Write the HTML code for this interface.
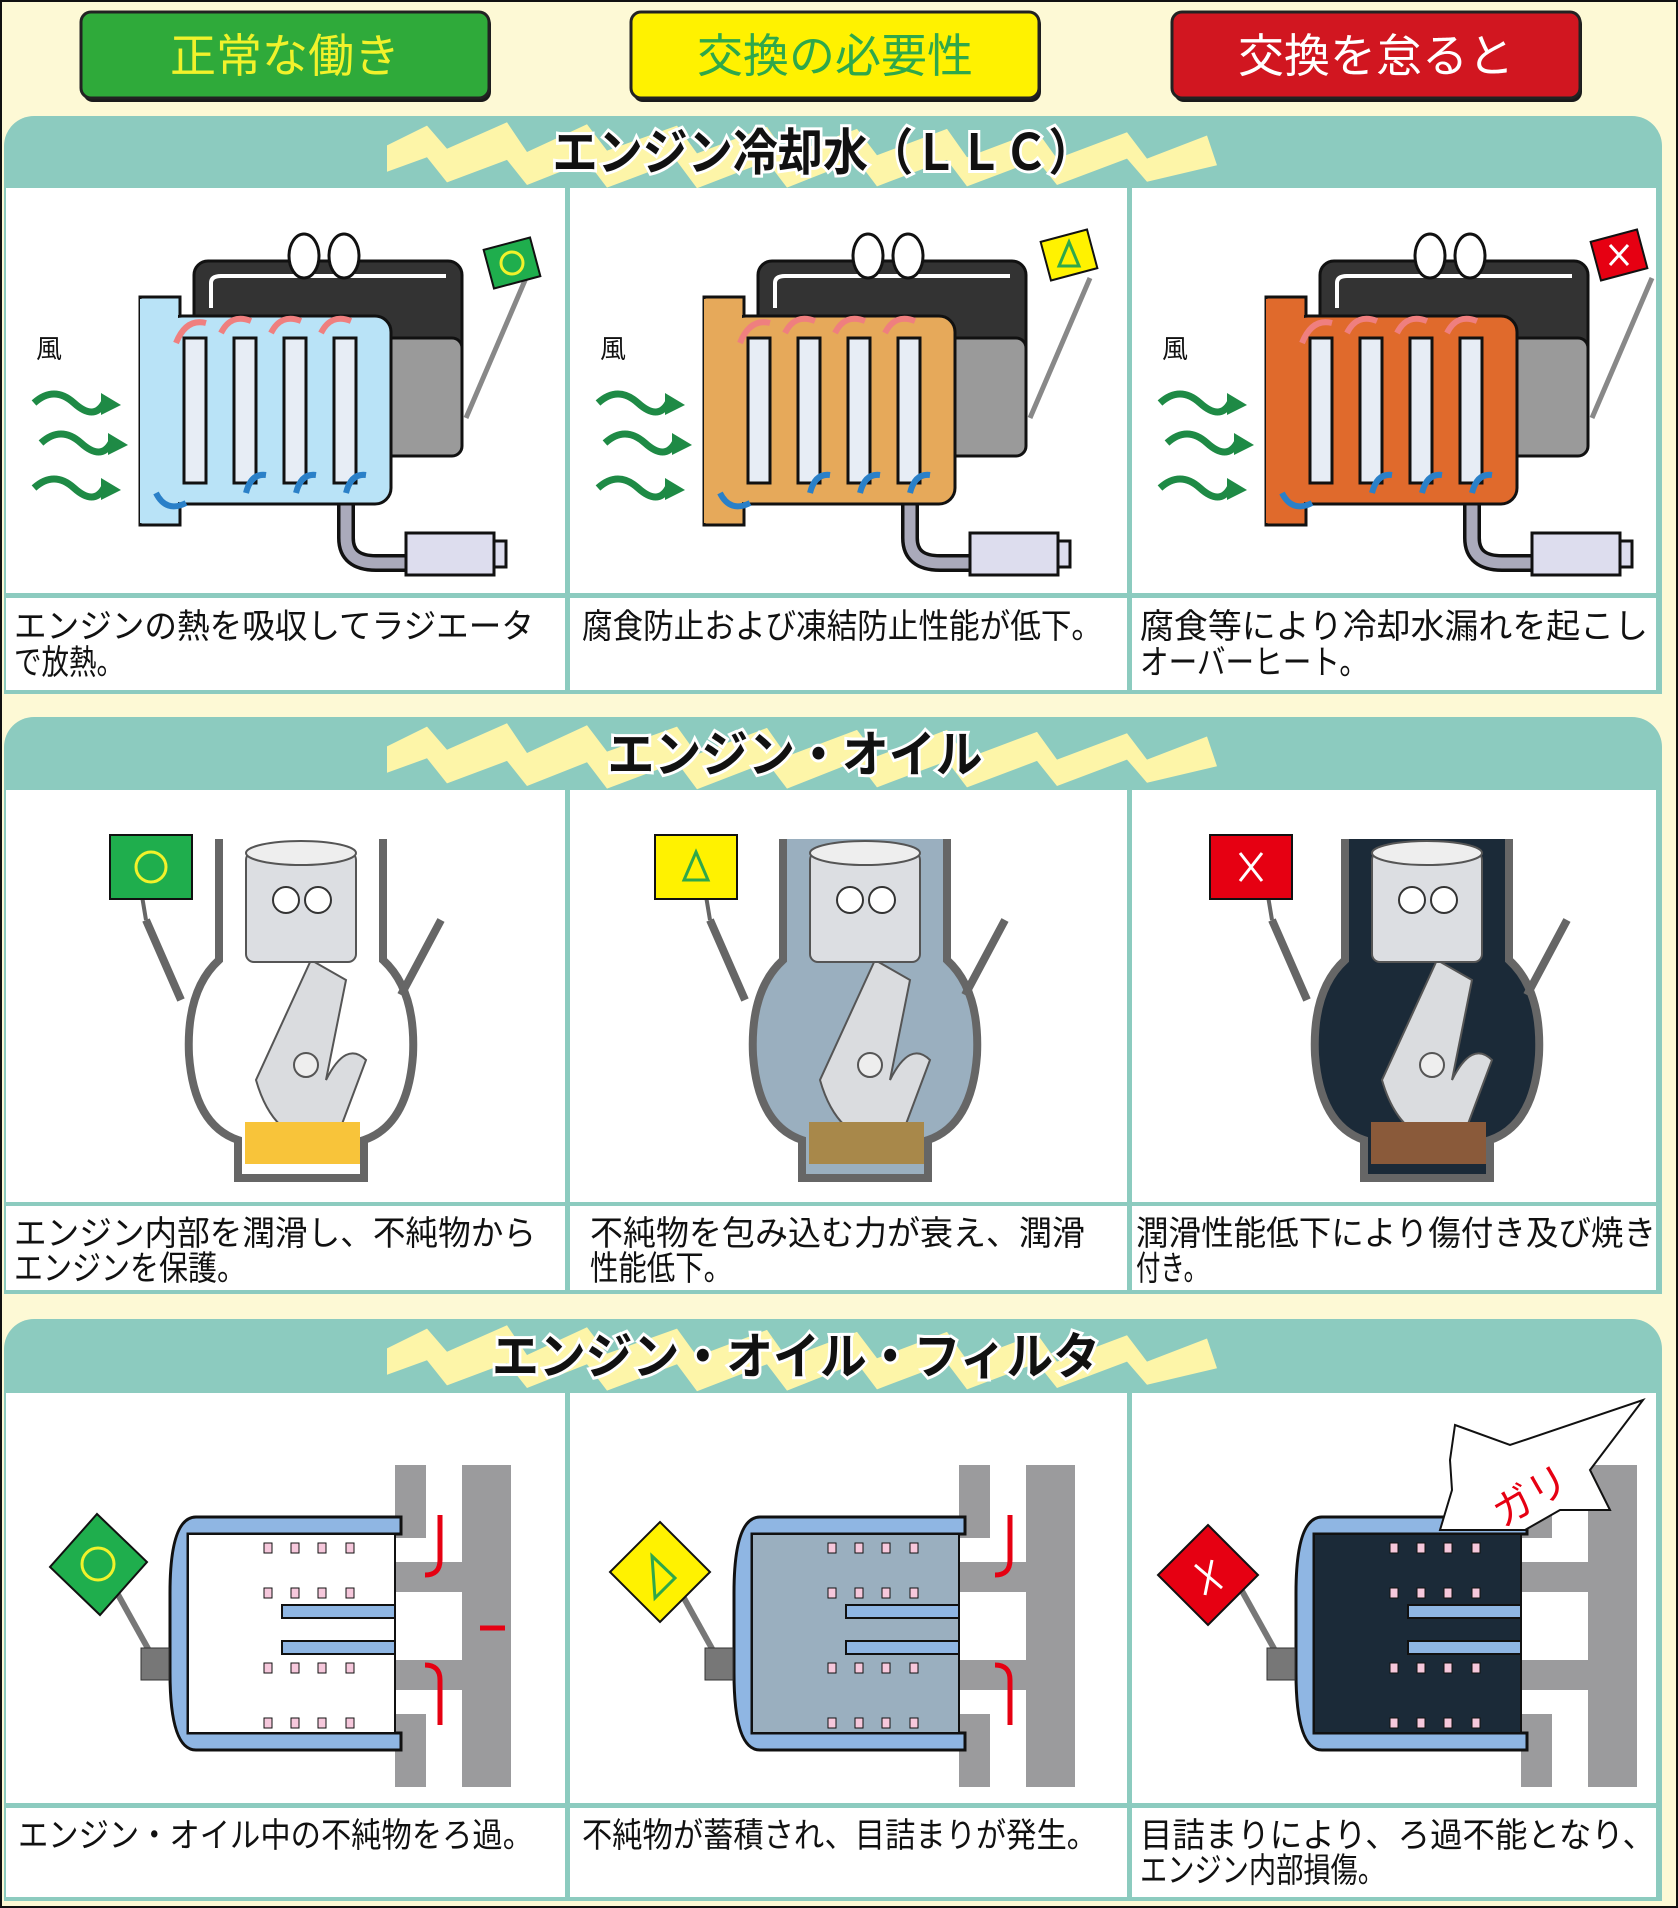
<!DOCTYPE html>
<html><head><meta charset="utf-8"><style>
html,body{margin:0;padding:0;background:#fdf9d5;}
svg{display:block;font-family:"Liberation Sans","Noto Sans CJK JP",sans-serif;}
</style></head><body>
<svg width="1678" height="1908" viewBox="0 0 1678 1908" xmlns="http://www.w3.org/2000/svg">
<defs>
<g id="rad">
  <rect x="188" y="73" width="268" height="195" rx="14" fill="#333" stroke="#111" stroke-width="3"/>
  <rect x="330" y="150" width="126" height="118" rx="10" fill="#9a9a9a" stroke="#111" stroke-width="3"/>
  <path d="M205,120 V95 Q205,88 215,88 H440" fill="none" stroke="#fff" stroke-width="4"/>
  <path d="M340,300 V350 Q340,375 370,375 H410" stroke="#111" stroke-width="18" fill="none"/>
  <path d="M340,300 V350 Q340,375 370,375 H410" stroke="#aab" stroke-width="11" fill="none"/>
  <rect x="400" y="345" width="88" height="42" fill="#dde" stroke="#111" stroke-width="3"/>
  <rect x="488" y="353" width="12" height="26" fill="#dde" stroke="#111" stroke-width="3"/>
  <rect x="134" y="109" width="40" height="228" fill="currentColor" stroke="#111" stroke-width="3"/>
  <rect x="160" y="128" width="225" height="188" rx="16" fill="currentColor" stroke="#111" stroke-width="3"/>
  <rect x="134" y="111" width="38" height="224" fill="currentColor"/>
  <g fill="#e7edf5" stroke="#111" stroke-width="3">
    <rect x="178" y="150" width="22" height="145"/><rect x="228" y="150" width="22" height="145"/>
    <rect x="278" y="150" width="22" height="145"/><rect x="328" y="150" width="22" height="145"/>
  </g>
  <ellipse cx="298" cy="68" rx="15" ry="22" fill="#fff" stroke="#111" stroke-width="3"/>
  <ellipse cx="338" cy="68" rx="15" ry="22" fill="#fff" stroke="#111" stroke-width="3"/>
  <line x1="460" y1="230" x2="520" y2="90" stroke="#888" stroke-width="5"/>
  <text x="30" y="170" font-size="26" fill="#111">風</text>
  <g fill="none" stroke="#1e8a45" stroke-width="7">
    <path d="M28,215 q20,-18 40,0 t30,0"/><path d="M35,255 q20,-18 40,0 t30,0"/><path d="M28,300 q20,-18 40,0 t30,0"/>
  </g>
  <g fill="#1e8a45"><path d="M95,205 l20,12 l-20,10 z"/><path d="M102,245 l20,12 l-20,10 z"/><path d="M95,290 l20,12 l-20,10 z"/></g>
  <g fill="none" stroke-width="6"><path d="M170,155 q10,-25 30,-20" stroke="#ef7f7f"/><path d="M215,145 q10,-20 30,-12" stroke="#ef7f7f"/><path d="M265,145 q10,-20 30,-12" stroke="#ef7f7f"/><path d="M315,145 q10,-20 30,-12" stroke="#ef7f7f"/>
  <path d="M150,305 q10,20 30,10" stroke="#2a80c8"/><path d="M240,305 q5,-20 20,-18" stroke="#2a80c8"/><path d="M290,305 q5,-20 20,-18" stroke="#2a80c8"/><path d="M340,305 q5,-20 20,-18" stroke="#2a80c8"/></g>
</g>
<g id="oil">
  <path d="M213,49 V170 Q180,200 183,265 Q188,335 232,350 V388 H358 V350 Q402,335 407,265 Q410,200 377,170 V49" fill="currentColor" stroke="#666" stroke-width="8"/>
  <path d="M305,170 L250,290 Q270,360 330,350 L360,270 Q340,250 320,290 L340,190 Z" fill="#dadcdf" stroke="#555" stroke-width="2"/>
  <rect x="240" y="62" width="110" height="110" rx="8" fill="#dcdee2" stroke="#555" stroke-width="2"/>
  <ellipse cx="295" cy="63" rx="55" ry="12" fill="#eee" stroke="#555" stroke-width="2"/>
  <circle cx="280" cy="110" r="13" fill="#fff" stroke="#333" stroke-width="2"/><circle cx="312" cy="110" r="13" fill="#fff" stroke="#333" stroke-width="2"/>
  <circle cx="300" cy="275" r="12" fill="#eee" stroke="#555" stroke-width="2"/>
  <path d="M140,130 L175,210 M435,130 L395,205" stroke="#666" stroke-width="8"/>
  <line x1="140" y1="130" x2="135" y2="100" stroke="#666" stroke-width="4"/>
</g>
<g id="filt">
  <g fill="#9b9b9d"><rect x="456" y="72" width="49" height="322"/><rect x="389" y="72" width="31" height="73"/><rect x="389" y="169" width="116" height="30"/><rect x="389" y="267" width="116" height="30"/><rect x="389" y="321" width="31" height="73"/></g>
  <path d="M395,124 H190 Q164,124 164,200 V280 Q164,357 190,357 H395 V340 H182 V141 H395 Z" fill="#8fb6e3" stroke="#111" stroke-width="3"/>
  <rect x="182" y="141" width="207" height="199" fill="currentColor" stroke="#111" stroke-width="2"/>
  <rect x="276" y="212" width="113" height="13" fill="#8fb6e3" stroke="#111" stroke-width="2"/>
  <rect x="276" y="248" width="113" height="13" fill="#8fb6e3" stroke="#111" stroke-width="2"/>
  <g fill="#f6c8dc" stroke="#111" stroke-width="1">
    <rect x="258" y="150" width="8" height="10"/><rect x="285" y="150" width="8" height="10"/><rect x="312" y="150" width="8" height="10"/><rect x="340" y="150" width="8" height="10"/>
    <rect x="258" y="195" width="8" height="10"/><rect x="285" y="195" width="8" height="10"/><rect x="312" y="195" width="8" height="10"/><rect x="340" y="195" width="8" height="10"/>
    <rect x="258" y="270" width="8" height="10"/><rect x="285" y="270" width="8" height="10"/><rect x="312" y="270" width="8" height="10"/><rect x="340" y="270" width="8" height="10"/>
    <rect x="258" y="325" width="8" height="10"/><rect x="285" y="325" width="8" height="10"/><rect x="312" y="325" width="8" height="10"/><rect x="340" y="325" width="8" height="10"/>
  </g>
  <line x1="100" y1="180" x2="150" y2="270" stroke="#777" stroke-width="6"/>
  <rect x="135" y="255" width="28" height="32" fill="#777" stroke="#333"/>
</g>
<path id="zig" d="M0,40 L40,10 L60,45 L120,5 L140,50 L200,8 L220,48 L290,10 L310,52 L380,12 L400,55 L470,15 L490,55 L560,15 L580,58 L650,18 L670,60 L740,20 L760,60 L820,25 L830,70 L760,95 L740,60 L670,100 L650,62 L580,102 L560,62 L490,102 L470,62 L400,104 L380,64 L310,105 L290,64 L220,104 L200,64 L140,100 L120,62 L60,96 L40,58 L0,80 Z" fill="#fdf5a8"/>
</defs>

<rect x="1" y="1" width="1676" height="1906" fill="#fdf9d5" stroke="#111" stroke-width="2"/>

<rect x="83" y="14" width="408" height="88" rx="10" fill="#1a1a1a"/>
<rect x="81" y="12" width="408" height="86" rx="10" fill="#2faa3a" stroke="#222" stroke-width="3"/>
<text x="285" y="72" font-size="46" text-anchor="middle" fill="#f1f22b">正常な働き</text>
<rect x="633" y="14" width="408" height="88" rx="10" fill="#1a1a1a"/>
<rect x="631" y="12" width="408" height="86" rx="10" fill="#fff200" stroke="#222" stroke-width="3"/>
<text x="835" y="72" font-size="46" text-anchor="middle" fill="#2fa84a">交換の必要性</text>
<rect x="1174" y="14" width="408" height="88" rx="10" fill="#1a1a1a"/>
<rect x="1172" y="12" width="408" height="86" rx="10" fill="#d11620" stroke="#222" stroke-width="3"/>
<text x="1376" y="72" font-size="46" text-anchor="middle" fill="#fff">交換を怠ると</text>

<g>
<rect x="4" y="116" width="1658" height="578" rx="30" fill="#8ccbbf"/>
<rect x="4" y="150" width="1658" height="544" fill="#8ccbbf"/>
<use href="#zig" transform="translate(387,119) scale(1,0.66)"/>
<text x="823" y="170" font-size="50" font-weight="bold" text-anchor="middle" fill="#111" stroke="#fff" stroke-width="6" paint-order="stroke" textLength="541" lengthAdjust="spacingAndGlyphs">エンジン冷却水（ＬＬＣ）</text>
<rect x="6" y="188" width="559" height="405" fill="#fff"/><rect x="570" y="188" width="557" height="405" fill="#fff"/><rect x="1132" y="188" width="524" height="405" fill="#fff"/>
<rect x="6" y="598" width="559" height="92" fill="#fff"/><rect x="570" y="598" width="557" height="92" fill="#fff"/><rect x="1132" y="598" width="524" height="92" fill="#fff"/>
<use href="#rad" x="6" y="188" color="#b9e3f7"/>
<rect x="488" y="243" width="48" height="40" fill="#1fae4d" stroke="#111" stroke-width="2" transform="rotate(-15 512 263)"/><circle cx="512" cy="263" r="11" fill="none" stroke="#f1f22b" stroke-width="3"/>
<use href="#rad" x="570" y="188" color="#e6a95a"/>
<rect x="1045" y="235" width="48" height="40" fill="#fff200" stroke="#111" stroke-width="2" transform="rotate(-15 1069 255)"/><path d="M1069,242 L1079,266 L1059,266 Z" fill="none" stroke="#2fa84a" stroke-width="3"/>
<use href="#rad" x="1132" y="188" color="#e06a2c"/>
<rect x="1595" y="235" width="48" height="40" fill="#e60012" stroke="#111" stroke-width="2" transform="rotate(-15 1619 255)"/><path d="M1610,245 L1628,265 M1628,245 L1610,265" stroke="#fff" stroke-width="3"/>
<g font-size="34" fill="#111">
<text x="14" y="638" textLength="520" lengthAdjust="spacingAndGlyphs">エンジンの熱を吸収してラジエータ</text>
<text x="14" y="674" textLength="110" lengthAdjust="spacingAndGlyphs">で放熱。</text>
<text x="582" y="638" textLength="520" lengthAdjust="spacingAndGlyphs">腐食防止および凍結防止性能が低下。</text>
<text x="1140" y="638" textLength="508" lengthAdjust="spacingAndGlyphs">腐食等により冷却水漏れを起こし</text>
<text x="1140" y="674" textLength="228" lengthAdjust="spacingAndGlyphs">オーバーヒート。</text>
</g>
</g>

<g>
<rect x="4" y="717" width="1658" height="577" rx="30" fill="#8ccbbf"/>
<rect x="4" y="750" width="1658" height="544" fill="#8ccbbf"/>
<use href="#zig" transform="translate(387,720) scale(1,0.66)"/>
<text x="795" y="772" font-size="50" font-weight="bold" text-anchor="middle" fill="#111" stroke="#fff" stroke-width="6" paint-order="stroke" textLength="375" lengthAdjust="spacingAndGlyphs">エンジン・オイル</text>
<rect x="6" y="790" width="559" height="412" fill="#fff"/><rect x="570" y="790" width="557" height="412" fill="#fff"/><rect x="1132" y="790" width="524" height="412" fill="#fff"/>
<rect x="6" y="1206" width="559" height="84" fill="#fff"/><rect x="570" y="1206" width="557" height="84" fill="#fff"/><rect x="1132" y="1206" width="524" height="84" fill="#fff"/>
<use href="#oil" x="6" y="790" color="#ffffff"/>
<rect x="245" y="1122" width="115" height="42" fill="#f8c43a"/>
<rect x="110" y="835" width="82" height="64" fill="#1fae4d" stroke="#111" stroke-width="2"/><circle cx="151" cy="867" r="15" fill="none" stroke="#f1f22b" stroke-width="3"/>
<use href="#oil" x="570" y="790" color="#9aafbf"/>
<rect x="809" y="1122" width="115" height="42" fill="#a8884a"/>
<rect x="655" y="835" width="82" height="64" fill="#fff200" stroke="#111" stroke-width="2"/><path d="M696,852 L708,880 L684,880 Z" fill="none" stroke="#2fa84a" stroke-width="3"/>
<use href="#oil" x="1132" y="790" color="#1b2a38"/>
<rect x="1371" y="1122" width="115" height="42" fill="#8a5a3a"/>
<rect x="1210" y="835" width="82" height="64" fill="#e60012" stroke="#111" stroke-width="2"/><path d="M1240,853 L1262,881 M1262,853 L1240,881" stroke="#fff" stroke-width="3"/>
<g font-size="34" fill="#111">
<text x="14" y="1245" textLength="522" lengthAdjust="spacingAndGlyphs">エンジン内部を潤滑し、不純物から</text>
<text x="14" y="1280" textLength="232" lengthAdjust="spacingAndGlyphs">エンジンを保護。</text>
<text x="590" y="1245" textLength="495" lengthAdjust="spacingAndGlyphs">不純物を包み込む力が衰え、潤滑</text>
<text x="590" y="1280" textLength="142" lengthAdjust="spacingAndGlyphs">性能低下。</text>
<text x="1136" y="1245" textLength="520" lengthAdjust="spacingAndGlyphs">潤滑性能低下により傷付き及び焼き</text>
<text x="1136" y="1280" textLength="72" lengthAdjust="spacingAndGlyphs">付き。</text>
</g>
</g>

<g>
<rect x="4" y="1319" width="1658" height="582" rx="30" fill="#8ccbbf"/>
<rect x="4" y="1352" width="1658" height="549" fill="#8ccbbf"/>
<use href="#zig" transform="translate(387,1322) scale(1,0.66)"/>
<text x="796" y="1374" font-size="50" font-weight="bold" text-anchor="middle" fill="#111" stroke="#fff" stroke-width="6" paint-order="stroke" textLength="608" lengthAdjust="spacingAndGlyphs">エンジン・オイル・フィルタ</text>
<rect x="6" y="1393" width="559" height="410" fill="#fff"/><rect x="570" y="1393" width="557" height="410" fill="#fff"/><rect x="1132" y="1393" width="524" height="410" fill="#fff"/>
<rect x="6" y="1808" width="559" height="89" fill="#fff"/><rect x="570" y="1808" width="557" height="89" fill="#fff"/><rect x="1132" y="1808" width="524" height="89" fill="#fff"/>
<use href="#filt" x="6" y="1393" color="#ffffff"/>
<path d="M97,1514 L147,1562 L100,1615 L50,1567 Z" fill="#1fae4d" stroke="#111" stroke-width="2"/><circle cx="98" cy="1564" r="16" fill="none" stroke="#f1f22b" stroke-width="3"/>
<g stroke="#e60012" stroke-width="5" fill="none"><path d="M440,1515 V1560 Q440,1575 425,1575"/><path d="M440,1725 V1680 Q440,1665 425,1665"/><path d="M480,1628 H505"/></g>
<use href="#filt" x="570" y="1393" color="#9aafbf"/>
<path d="M660,1522 L710,1572 L660,1622 L610,1572 Z" fill="#fff200" stroke="#111" stroke-width="2"/><path d="M652,1556 L675,1578 L655,1598 Z" fill="none" stroke="#2fa84a" stroke-width="3"/>
<g stroke="#e60012" stroke-width="5" fill="none"><path d="M1010,1515 V1560 Q1010,1575 995,1575"/><path d="M1010,1725 V1680 Q1010,1665 995,1665"/></g>
<use href="#filt" x="1132" y="1393" color="#1b2a38"/>
<path d="M1208,1525 L1258,1575 L1208,1625 L1158,1575 Z" fill="#e60012" stroke="#111" stroke-width="2"/><path d="M1195,1565 L1222,1588 M1212,1560 L1205,1595" stroke="#fff" stroke-width="3"/>
<path d="M1455,1425 L1510,1445 L1643,1400 L1590,1470 L1610,1510 L1560,1510 L1525,1530 L1480,1530 L1440,1530 L1452,1490 L1450,1460 Z" fill="#fff" stroke="#111" stroke-width="2"/>
<text x="1490" y="1510" font-size="40" fill="#e60012" transform="rotate(-30 1530 1495)">ガリ</text>
<g font-size="34" fill="#111">
<text x="18" y="1847" textLength="515" lengthAdjust="spacingAndGlyphs">エンジン・オイル中の不純物をろ過。</text>
<text x="582" y="1847" textLength="515" lengthAdjust="spacingAndGlyphs">不純物が蓄積され、目詰まりが発生。</text>
<text x="1140" y="1847" textLength="515" lengthAdjust="spacingAndGlyphs">目詰まりにより、ろ過不能となり、</text>
<text x="1140" y="1882" textLength="245" lengthAdjust="spacingAndGlyphs">エンジン内部損傷。</text>
</g>
</g>
</svg>
</body></html>
